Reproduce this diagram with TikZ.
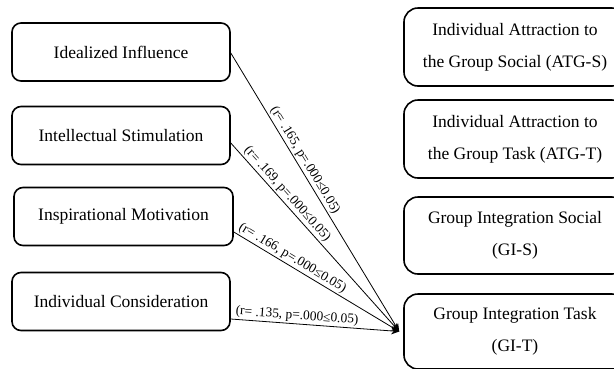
\documentclass[tikz,border=0pt]{standalone}
\usepackage{fontspec}
\setmainfont{Liberation Serif}
\usetikzlibrary{arrows.meta}
\begin{document}
\begin{tikzpicture}[x=1pt,y=-1pt,
  lbox/.style={draw=black,line width=1.6pt,rounded corners=9pt,minimum width=218pt,minimum height=58pt,inner sep=0pt,font=\fontsize{17.5}{21}\selectfont},
  rbox/.style={draw=black,line width=1.6pt,rounded corners=14pt,minimum width=222pt,inner sep=0pt,align=center,font=\fontsize{17.5}{32}\selectfont},
  conn/.style={line width=0.8pt,-{Stealth[length=8pt,width=7pt]}},
  lab/.style={sloped,above,inner sep=1.5pt,font=\fontsize{13.4}{15}\selectfont}]
\useasboundingbox (0,0) rectangle (614,368);
\clip (0,0) rectangle (614,368);
\node[lbox] (ii) at (121,52) {Idealized Influence};
\node[lbox] (is) at (121,135.5) {Intellectual Stimulation};
\node[lbox,minimum width=219pt] (im) at (123.5,216.5) {Inspirational Motivation};
\node[lbox] (ic) at (121,301.5) {Individual Consideration};
\node[rbox,minimum height=78pt] (as) at (515,47) {Individual Attraction to\\the Group Social (ATG-S)};
\node[rbox,minimum height=78pt] (at) at (515,139) {Individual Attraction to\\the Group Task (ATG-T)};
\node[rbox,minimum height=77pt] (gs) at (515,235.5) {Group Integration Social\\(GI-S)};
\node[rbox,minimum height=75pt] (gt) at (515,331.5) {Group Integration Task\\(GI-T)};
\coordinate (tip) at ([xshift=-4pt]gt.west);
\draw[conn] ([yshift=-1pt]ii.east) -- (tip) node[lab,pos=0.40] {(r= .165, p=.000≤0.05)};
\draw[conn] ([yshift=-7.5pt]is.east) -- (tip) node[lab,pos=0.30] {(r= .169, p=.000≤0.05)};
\draw[conn] ([yshift=-15.5pt]im.east) -- (tip) node[lab,pos=0.33] {(r= .166, p=.000≤0.05)};
\draw[conn] ([yshift=-17.5pt]ic.east) -- (tip) node[lab,pos=0.39] {(r= .135, p=.000≤0.05)};
\end{tikzpicture}
\end{document}
